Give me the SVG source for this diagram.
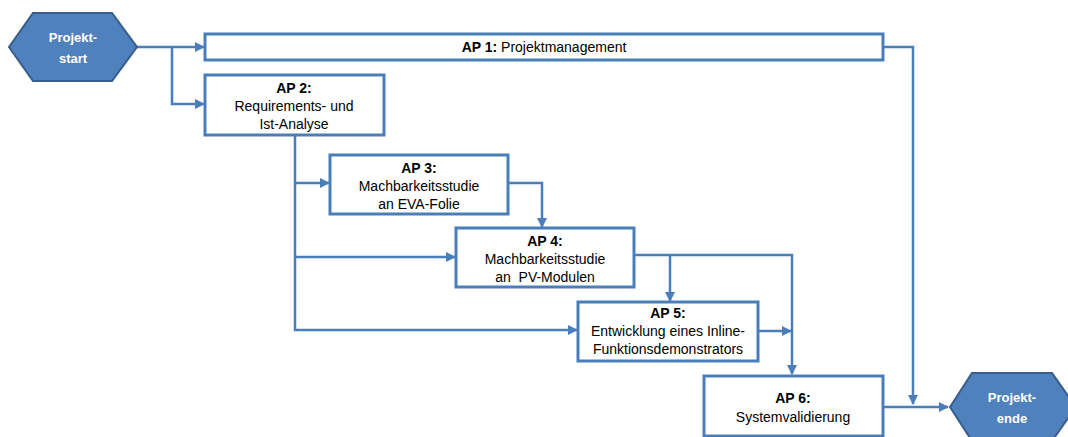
<svg xmlns="http://www.w3.org/2000/svg" width="1068" height="437" viewBox="0 0 1068 437">
<defs>
<marker id="ah" viewBox="0 0 10 10" refX="9" refY="5" markerWidth="4" markerHeight="4" orient="auto" markerUnits="strokeWidth">
<path d="M0,0 L10,5 L0,10 z" fill="#4a7ebb"/>
</marker>
<style>
.box{fill:#fff;stroke:#4a7ebb;stroke-width:3}
.hex{fill:#4f81bd;stroke:#385d8a;stroke-width:2}
.c{fill:none;stroke:#4a7ebb;stroke-width:2.5}
.t{font-family:"Liberation Sans",Arial,sans-serif;font-size:14px;fill:#000;text-anchor:middle}
.b{font-weight:bold}
.w{font-family:"Liberation Sans",Arial,sans-serif;font-size:13px;font-weight:bold;fill:#fff;text-anchor:middle}
</style>
</defs>
<rect width="1068" height="437" fill="#fff"/>
<g id="connectors">
<path class="c" d="M137,47 H204" marker-end="url(#ah)"/>
<path class="c" d="M172,47 V104 H204" marker-end="url(#ah)"/>
<path class="c" d="M295,135 V330 H577" marker-end="url(#ah)"/>
<path class="c" d="M295,183 H329" marker-end="url(#ah)"/>
<path class="c" d="M295,257 H455" marker-end="url(#ah)"/>
<path class="c" d="M508,183 H542 V227" marker-end="url(#ah)"/>
<path class="c" d="M634,255 H792 V374" marker-end="url(#ah)"/>
<path class="c" d="M670,255 V301" marker-end="url(#ah)"/>
<path class="c" d="M758,331 H791" marker-end="url(#ah)"/>
<path class="c" d="M883,47 H913 V404" marker-end="url(#ah)"/>
<path class="c" d="M883,407 H948" marker-end="url(#ah)"/>
</g>
<g id="start">
<polygon class="hex" points="9,47 33,13 112,13 137,47 112,81 33,81"/>
<text class="w" x="73" y="42">Projekt-</text>
<text class="w" x="73" y="63">start</text>
</g>
<g id="ap1">
<rect class="box" x="205" y="34" width="678" height="26"/>
<text class="t" x="544" y="52"><tspan class="b">AP 1:</tspan> Projektmanagement</text>
</g>
<g id="ap2">
<rect class="box" x="205" y="75" width="179" height="60"/>
<text class="t b" x="294" y="93">AP 2:</text>
<text class="t" x="294" y="111">Requirements- und</text>
<text class="t" x="294" y="129">Ist-Analyse</text>
</g>
<g id="ap3">
<rect class="box" x="330" y="155" width="178" height="59"/>
<text class="t b" x="419" y="173">AP 3:</text>
<text class="t" x="419" y="191">Machbarkeitsstudie</text>
<text class="t" x="419" y="209">an EVA-Folie</text>
</g>
<g id="ap4">
<rect class="box" x="456" y="228" width="178" height="59"/>
<text class="t b" x="545" y="246">AP 4:</text>
<text class="t" x="545" y="264">Machbarkeitsstudie</text>
<text class="t" x="545" y="282">an&#160; PV-Modulen</text>
</g>
<g id="ap5">
<rect class="box" x="578" y="302" width="180" height="59"/>
<text class="t b" x="668" y="318">AP 5:</text>
<text class="t" x="668" y="336">Entwicklung eines Inline-</text>
<text class="t" x="668" y="354">Funktionsdemonstrators</text>
</g>
<g id="ap6">
<rect class="box" x="704" y="376" width="179" height="60"/>
<text class="t b" x="793" y="403">AP 6:</text>
<text class="t" x="793" y="422">Systemvalidierung</text>
</g>
<g id="end">
<polygon class="hex" points="950,407 972,373 1052,373 1076,407 1052,441 972,441"/>
<text class="w" x="1012" y="402">Projekt-</text>
<text class="w" x="1012" y="423">ende</text>
</g>
</svg>
